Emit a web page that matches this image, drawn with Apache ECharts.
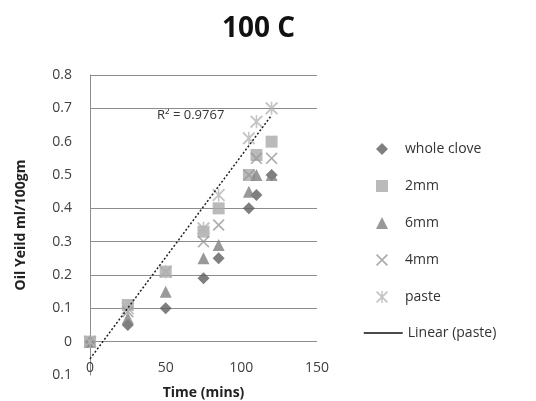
<!DOCTYPE html>
<html>
<head>
<meta charset="utf-8">
<script src="https://cdn.jsdelivr.net/npm/echarts@6/dist/echarts.min.js"></script>
<style>
  html, body { margin: 0; padding: 0; background: #fff; }
  #chart { width: 536px; height: 401px; }
</style>
</head>
<body>
<div id="chart"></div>
<script>
// time points (mins)
let times = [0, 25, 50, 75, 85, 105, 110, 120];
// oil yield ml/100gm
let wholeClove = [0, 0.05, 0.10, 0.19, 0.25, 0.40, 0.44, 0.50];
let mm2 = [0, 0.11, 0.21, 0.33, 0.40, 0.50, 0.56, 0.60];
let mm6 = [0, 0.07, 0.15, 0.25, 0.29, 0.45, 0.50, 0.50];
let mm4 = [0, 0.09, 0.21, 0.30, 0.35, 0.50, 0.55, 0.55];
let paste = [0, 0.10, 0.21, 0.34, 0.44, 0.61, 0.66, 0.70];
let xTicks = [0, 50, 100, 150];
let yTicks = [-0.1, 0, 0.1, 0.2, 0.3, 0.4, 0.5, 0.6, 0.7, 0.8];

let pairs = vals => times.map((t, i) => [t, vals[i]]);

// least squares fit for the paste trendline
let fit = (xs, ys) => {
    let n = xs.length;
    let mx = xs.reduce((a, b) => a + b, 0) / n;
    let my = ys.reduce((a, b) => a + b, 0) / n;
    let sxy = 0, sxx = 0;
    xs.forEach((x, i) => { sxy += (x - mx) * (ys[i] - my); sxx += (x - mx) * (x - mx); });
    let m = sxy / sxx;
    return { m: m, b: my - m * mx };
};
let lf = fit(times, paste);
let trend = [times[0], times[times.length - 1]].map(t => [t, lf.b + lf.m * t]);

const X_PATH = 'path://M0,1 L1,0 L5,4 L9,0 L10,1 L6,5 L10,9 L9,10 L5,6 L1,10 L0,9 L4,5 Z';
const STAR_PATH = 'path://M0,1 L1,0 L5,4 L9,0 L10,1 L6,5 L10,9 L9,10 L5,6 L1,10 L0,9 L4,5 Z M4.4,0 L5.6,0 L5.6,10 L4.4,10 Z';

let font = 'Open Sans';
let gridColor = '#8c8c8c';
let none = 'rgba(0,0,0,0)';
let legendText = { fontFamily: font, fontSize: 14, color: '#333' };

let option = {
    animation: false,
    title: {
        text: '100 C',
        left: 217,
        top: 10,
        textStyle: { fontFamily: font, fontSize: 28, fontWeight: 'bold', color: '#111' }
    },
    grid: { left: 90, right: 219, top: 75, bottom: 26, outerBoundsMode: 'none', containLabel: false },
    legend: [
        {
            orient: 'vertical',
            left: 376,
            top: 142,
            padding: 0,
            itemWidth: 12,
            itemHeight: 12,
            itemGap: 23,
            textStyle: Object.assign({ padding: [0, 0, 0, 12] }, legendText),
            data: ['whole clove', '2mm', '6mm', '4mm', 'paste']
        },
        {
            left: 363,
            top: 326,
            padding: 0,
            itemWidth: 39,
            itemHeight: 10,
            textStyle: legendText,
            itemStyle: { opacity: 0 },
            lineStyle: { type: 'solid', width: 1.5, color: '#111', opacity: 1 },
            data: ['Linear (paste)']
        }
    ],
    xAxis: {
        type: 'value',
        min: xTicks[0],
        max: xTicks[xTicks.length - 1],
        interval: 50,
        name: 'Time (mins)',
        nameLocation: 'middle',
        nameGap: 11,
        nameTextStyle: { fontFamily: font, fontSize: 14, fontWeight: 'bold', color: '#222' },
        axisLine: { show: false, onZero: false },
        axisTick: { show: false },
        splitLine: { show: false },
        axisLabel: { fontFamily: font, fontSize: 14, color: '#404040', margin: -14 }
    },
    yAxis: {
        type: 'value',
        min: yTicks[0],
        max: yTicks[yTicks.length - 1],
        interval: 0.1,
        name: 'Oil Yeild ml/100gm',
        nameLocation: 'middle',
        nameGap: 62,
        nameTextStyle: { fontFamily: font, fontSize: 14, fontWeight: 'bold', color: '#222' },
        axisLine: { show: true, lineStyle: { color: gridColor, width: 1 } },
        axisTick: { show: false },
        axisLabel: {
            fontFamily: font, fontSize: 14, color: '#404040', margin: 18,
            formatter: v => String(Math.abs(Math.round(v * 10) / 10))
        },
        splitLine: {
            show: true,
            lineStyle: {
                width: 1,
                color: [none, gridColor, gridColor, gridColor, gridColor, gridColor, none, none, gridColor, gridColor]
            }
        }
    },
    graphic: [
        {
            type: 'text',
            left: 157,
            top: 109,
            style: { text: 'R² = 0.9767', fontFamily: font, fontSize: 13, fill: '#333' }
        }
    ],
    series: [
        {
            name: 'whole clove', type: 'scatter', symbol: 'diamond', symbolSize: 12,
            itemStyle: { color: '#5f5f5f' }, data: pairs(wholeClove)
        },
        {
            name: '2mm', type: 'scatter', symbol: 'rect', symbolSize: 12,
            itemStyle: { color: '#a9a9a9' }, data: pairs(mm2)
        },
        {
            name: '6mm', type: 'scatter', symbol: 'triangle', symbolSize: 12,
            itemStyle: { color: '#808080' }, data: pairs(mm6)
        },
        {
            name: '4mm', type: 'scatter', symbol: X_PATH, symbolSize: 12,
            itemStyle: { color: '#9a9a9a' }, data: pairs(mm4)
        },
        {
            name: 'paste', type: 'scatter', symbol: STAR_PATH, symbolSize: 13,
            itemStyle: { color: '#b5b5b5' }, data: pairs(paste)
        },
        {
            name: 'Linear (paste)', type: 'line', symbol: 'none',
            lineStyle: { color: '#222', width: 1.5, type: [2, 2] },
            itemStyle: { color: '#111' },
            data: trend
        }
    ]
};

let chart = echarts.init(document.getElementById('chart'));
chart.setOption(option);
</script>
</body>
</html>
